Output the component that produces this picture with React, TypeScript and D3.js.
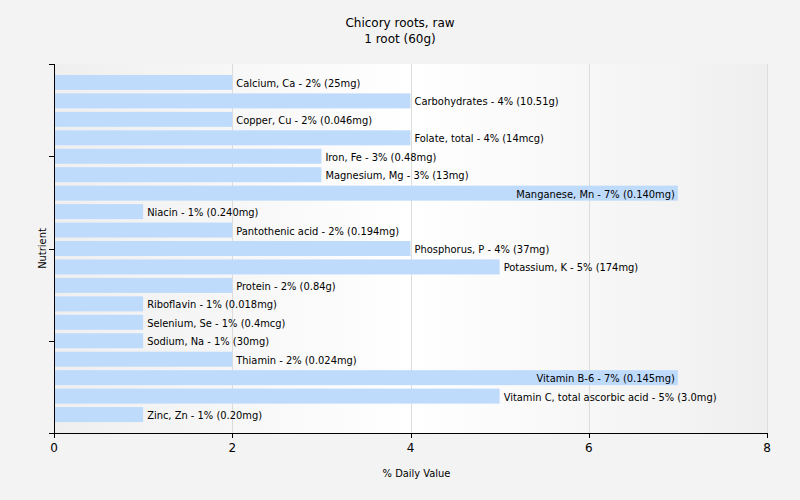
import React from "react";
import * as d3 from "d3";

const nutrients = [
  "Calcium, Ca", "Carbohydrates", "Copper, Cu", "Folate, total", "Iron, Fe",
  "Magnesium, Mg", "Manganese, Mn", "Niacin", "Pantothenic acid", "Phosphorus, P",
  "Potassium, K", "Protein", "Riboflavin", "Selenium, Se", "Sodium, Na",
  "Thiamin", "Vitamin B-6", "Vitamin C, total ascorbic acid", "Zinc, Zn",
];
const dailyValues = [2, 4, 2, 4, 3, 3, 7, 1, 2, 4, 5, 2, 1, 1, 1, 2, 7, 5, 1];
const amounts = [
  "25mg", "10.51g", "0.046mg", "14mcg", "0.48mg", "13mg", "0.140mg", "0.240mg",
  "0.194mg", "37mg", "174mg", "0.84g", "0.018mg", "0.4mcg", "30mg", "0.024mg",
  "0.145mg", "3.0mg", "0.20mg",
];
const xTicks = [0, 2, 4, 6, 8];
const yTicks = [0, 5, 10, 15, 20];
const titleLines = ["Chicory roots, raw", "1 root (60g)"];

const W = 800, H = 500;
const left = 54, right = 767, top = 64, bottom = 433;
const FONT = "'DejaVu Sans', sans-serif";
const LFONT = "'DejaVu Sans Condensed', 'DejaVu Sans', sans-serif";

function textWidth(s: string, size: number) {
  if (typeof document === "undefined") return s.length * size * 0.5;
  const c = (textWidth as any).c || ((textWidth as any).c = document.createElement("canvas"));
  const ctx = c.getContext("2d");
  ctx.font = `${size}px 'DejaVu Sans Condensed', 'DejaVu Sans'`;
  return ctx.measureText(s).width;
}

export default function App() {
  const x = d3.scaleLinear().domain([0, 8]).range([left, right]);
  const y = d3.scaleLinear().domain([0, 20]).range([top, bottom]);
  const barH = 15;
  const fs = 11;
  return (
    <div style={{ position: "absolute", left: 0, top: 0 }}>
      <svg width={W} height={H} style={{ display: "block" }}>
        <defs>
          <linearGradient id="bg" x1="0" x2="1" y1="0" y2="0">
            <stop offset="0" stopColor="#efefef" />
            <stop offset="0.5" stopColor="#ffffff" />
            <stop offset="1" stopColor="#efefef" />
          </linearGradient>
        </defs>
        <rect x={0} y={0} width={W} height={H} fill="#f3f3f3" />
        <rect x={left} y={top} width={right - left} height={bottom - top} fill="url(#bg)" />
        {xTicks.slice(1).map((t) => (
          <line key={t} x1={Math.round(x(t)) + 0.5} x2={Math.round(x(t)) + 0.5} y1={top} y2={bottom} stroke="#dcdcdc" strokeWidth={1} />
        ))}
        {nutrients.map((n, i) => {
          const cy = y(i + 1);
          const label = `${n} - ${dailyValues[i]}% (${amounts[i]})`;
          const end = x(dailyValues[i]);
          const w = textWidth(label, fs);
          const inside = end + 3 + w > right;
          return (
            <g key={n}>
              <rect x={x(0) + 1} y={cy - barH / 2} width={end - x(0) - 1} height={barH} fill="#bfdbfc" />
              <text
                x={inside ? end - 3 : end + 4}
                y={cy + 0.5}
                dy="0.36em"
                textAnchor={inside ? "end" : "start"}
                fontFamily={LFONT}
                fontSize={fs}
                fill="#000"
              >
                {label}
              </text>
            </g>
          );
        })}
        <line x1={left + 0.5} x2={left + 0.5} y1={top} y2={bottom} stroke="#000" />
        <line x1={left} x2={right} y1={bottom + 0.5} y2={bottom + 0.5} stroke="#000" />
        {yTicks.map((t) => (
          <line key={t} x1={left - 5} x2={left} y1={Math.round(y(t)) + 0.5} y2={Math.round(y(t)) + 0.5} stroke="#000" />
        ))}
        {xTicks.map((t) => (
          <g key={t}>
            <line x1={Math.round(x(t)) + 0.5} x2={Math.round(x(t)) + 0.5} y1={bottom} y2={bottom + 5} stroke="#000" />
            <text x={x(t)} y={bottom + 19} textAnchor="middle" fontFamily={FONT} fontSize={12} fill="#000">
              {t}
            </text>
          </g>
        ))}
        <text x={(left + right) / 2 + 6} y={477} textAnchor="middle" fontFamily={LFONT} fontSize={11} fill="#000">
          % Daily Value
        </text>
        <text
          transform={`translate(46, ${(top + bottom) / 2}) rotate(-90)`}
          textAnchor="middle"
          fontFamily={LFONT}
          fontSize={11}
          fill="#000"
        >
          Nutrient
        </text>
        {titleLines.map((s, i) => (
          <text key={i} x={400} y={27 + i * 16} textAnchor="middle" fontFamily={FONT} fontSize={12} fill="#000">
            {s}
          </text>
        ))}
      </svg>
    </div>
  );
}
